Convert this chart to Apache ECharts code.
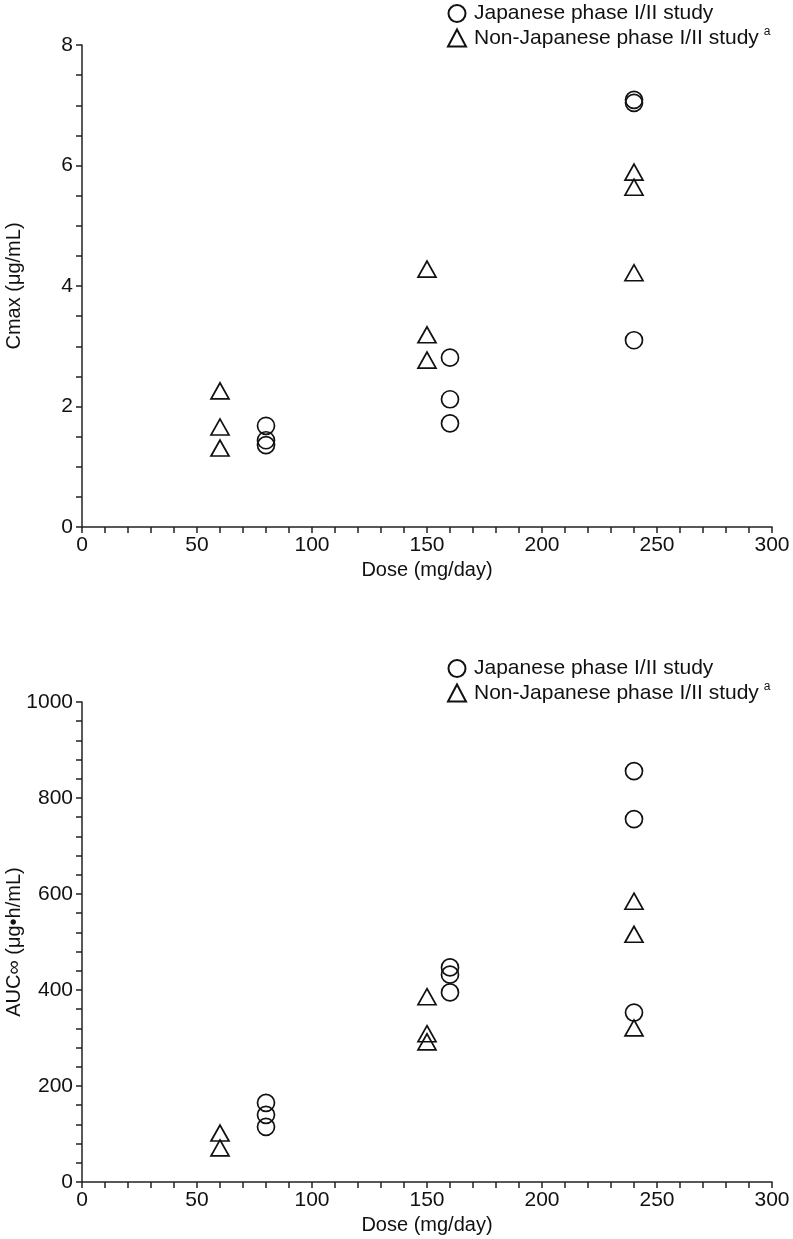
<!DOCTYPE html>
<html>
<head>
<meta charset="utf-8">
<script src="https://cdn.jsdelivr.net/npm/echarts@6/dist/echarts.min.js"></script>
<style>
  html, body { margin: 0; padding: 0; background: #fff; }
  #chart { width: 793px; height: 1239px; }
</style>
</head>
<body>
<div id="chart"></div>
<script>
const JP = "Japanese phase I/II study";
const NONJP = "Non-Japanese phase I/II study";

// Cmax (µg/mL) by dose (mg/day)
const cmaxJapanese = [[80, 1.68], [80, 1.44], [80, 1.36], [160, 2.81], [160, 2.12], [160, 1.72], [240, 7.09], [240, 7.04], [240, 3.10]];
const cmaxNonJapanese = [[60, 2.26], [60, 1.66], [60, 1.31], [150, 4.28], [150, 3.19], [150, 2.77], [240, 5.89], [240, 5.64], [240, 4.22]];

// AUCinf (µg·h/mL) by dose (mg/day)
const aucJapanese = [[80, 165], [80, 140], [80, 115], [160, 447], [160, 432], [160, 395], [240, 856], [240, 756], [240, 353]];
const aucNonJapanese = [[60, 102], [60, 71], [150, 386], [150, 309], [150, 292], [240, 585], [240, 516], [240, 321]];

const font = "Liberation Sans, Arial, Helvetica, sans-serif";
const ink = "#111";
const axisColor = "#222";

const chart = echarts.init(document.getElementById("chart"));

function xAxis(gridIndex) {
  return {
    type: "value", gridIndex: gridIndex, min: 0, max: 300, interval: 50,
    name: "Dose (mg/day)", nameLocation: "middle", nameGap: 33, nameMoveOverlap: false,
    nameTextStyle: { fontFamily: font, fontSize: 20, color: ink },
    axisLine: { show: true, lineStyle: { color: axisColor, width: 1.5 } },
    axisTick: { show: true, length: 6, lineStyle: { color: axisColor, width: 1.5 } },
    minorTick: { show: true, splitNumber: 5, length: 6, lineStyle: { color: axisColor, width: 1.5 } },
    axisLabel: { fontFamily: font, fontSize: 21, color: ink, margin: 8 },
    splitLine: { show: false }
  };
}

function yAxis(gridIndex, max, interval, split, name) {
  return {
    type: "value", gridIndex: gridIndex, min: 0, max: max, interval: interval,
    name: name, nameLocation: "middle", nameGap: 58, nameMoveOverlap: false,
    nameTextStyle: { fontFamily: font, fontSize: 20, color: ink },
    axisLine: { show: true, lineStyle: { color: axisColor, width: 1.5 } },
    axisTick: { show: true, length: 6, lineStyle: { color: axisColor, width: 1.5 } },
    minorTick: { show: true, splitNumber: split, length: 6, lineStyle: { color: axisColor, width: 1.5 } },
    axisLabel: { fontFamily: font, fontSize: 21, color: ink, margin: 9, formatter: function (v) { return String(v); } },
    splitLine: { show: false }
  };
}

function series(name, data, idx, symbol, size) {
  return {
    name: name, type: "scatter", xAxisIndex: idx, yAxisIndex: idx,
    data: data, symbol: symbol, symbolSize: size,
    itemStyle: { color: "rgba(0,0,0,0)", borderColor: "#111", borderWidth: 1.7, opacity: 1 },
    emphasis: { disabled: true }
  };
}

function legend(top) {
  return {
    left: 442, top: top, orient: "vertical", itemGap: 2,
    itemWidth: 18, itemHeight: 17,
    data: [JP, NONJP],
    formatter: function (n) { return n === NONJP ? "{t|" + n + "}{s|a}" : "{t|" + n + "}"; },
    textStyle: {
      fontFamily: font, fontSize: 21, color: ink,
      rich: {
        t: { fontFamily: font, fontSize: 21, color: ink, padding: [0, 0, 0, 3] },
        s: { fontFamily: font, fontSize: 12, color: ink, padding: [0, 0, 12, 5] }
      }
    }
  };
}

chart.setOption({
  animation: false,
  backgroundColor: "#fff",
  legend: [legend(-2), legend(653)],
  grid: [
    { left: 82, width: 690, top: 45, height: 482, outerBoundsMode: "none", containLabel: false },
    { left: 82, width: 690, top: 702, height: 480, outerBoundsMode: "none", containLabel: false }
  ],
  xAxis: [xAxis(0), xAxis(1)],
  yAxis: [
    yAxis(0, 8, 2, 4, "Cmax (μg/mL)"),
    yAxis(1, 1000, 200, 5, "AUC∞ (μg•h/mL)")
  ],
  series: [
    series(JP, cmaxJapanese, 0, "circle", 17),
    series(NONJP, cmaxNonJapanese, 0, "triangle", [18, 16]),
    series(JP, aucJapanese, 1, "circle", 17),
    series(NONJP, aucNonJapanese, 1, "triangle", [18, 16])
  ]
});
</script>
</body>
</html>
